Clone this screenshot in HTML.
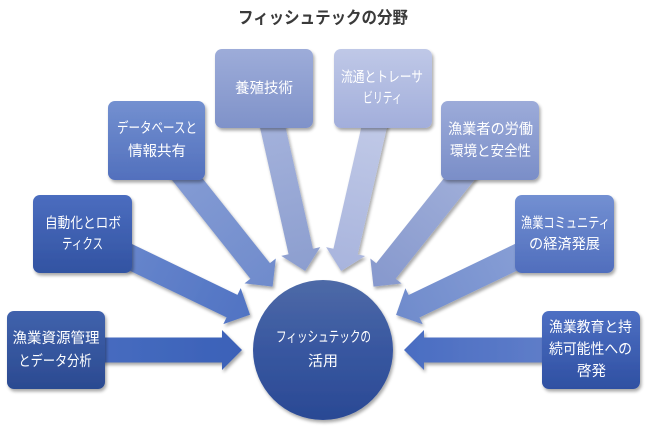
<!DOCTYPE html>
<html>
<head>
<meta charset="utf-8">
<style>
  html, body { margin: 0; padding: 0; background: #ffffff; }
  body { width: 650px; height: 427px; overflow: hidden; }
  svg { display: block; }
  .t { font-family: "Liberation Sans", "Noto Sans CJK JP", sans-serif; font-size: 14.5px; fill: #ffffff; }
  .title { font-family: "Liberation Sans", "Noto Sans CJK JP", sans-serif; font-size: 17px; font-weight: bold; fill: #3a3a3a; }
</style>
</head>
<body>
<svg width="650" height="427" viewBox="0 0 650 427" xmlns="http://www.w3.org/2000/svg">
  <defs>
    <filter id="sh" x="-20%" y="-20%" width="140%" height="140%">
      <feGaussianBlur in="SourceAlpha" stdDeviation="1.6"/>
      <feOffset dx="1.5" dy="2.5" result="ob"/>
      <feComponentTransfer><feFuncA type="linear" slope="0.35"/></feComponentTransfer>
      <feMerge><feMergeNode/><feMergeNode in="SourceGraphic"/></feMerge>
    </filter>
    <!-- box gradients -->
    <linearGradient id="b0" x1="0" y1="0" x2="0" y2="1"><stop offset="0" stop-color="#4062ac"/><stop offset="1" stop-color="#2b4a91"/></linearGradient>
    <linearGradient id="b1" x1="0" y1="0" x2="0" y2="1"><stop offset="0" stop-color="#4b6dbf"/><stop offset="1" stop-color="#3253a2"/></linearGradient>
    <linearGradient id="b2" x1="0" y1="0" x2="0" y2="1"><stop offset="0" stop-color="#7390d0"/><stop offset="1" stop-color="#5270bd"/></linearGradient>
    <linearGradient id="b3" x1="0" y1="0" x2="0" y2="1"><stop offset="0" stop-color="#9dacd9"/><stop offset="1" stop-color="#7f92c9"/></linearGradient>
    <linearGradient id="b4" x1="0" y1="0" x2="0" y2="1"><stop offset="0" stop-color="#bfc8e7"/><stop offset="1" stop-color="#a2aedb"/></linearGradient>
    <linearGradient id="b5" x1="0" y1="0" x2="0" y2="1"><stop offset="0" stop-color="#9cabd9"/><stop offset="1" stop-color="#7a8ec8"/></linearGradient>
    <linearGradient id="b6" x1="0" y1="0" x2="0" y2="1"><stop offset="0" stop-color="#7390d2"/><stop offset="1" stop-color="#506ebd"/></linearGradient>
    <linearGradient id="b7" x1="0" y1="0" x2="0" y2="1"><stop offset="0" stop-color="#4d6fc3"/><stop offset="1" stop-color="#2f50a2"/></linearGradient>
    <linearGradient id="bc" x1="0" y1="0" x2="0" y2="1"><stop offset="0" stop-color="#4e6aa7"/><stop offset="0.5" stop-color="#3857a0"/><stop offset="1" stop-color="#2a4994"/></linearGradient>
    <!-- arrow gradients (along length) -->
    <linearGradient id="a0" x1="0" y1="0" x2="1" y2="0"><stop offset="0" stop-color="#4a6fc2"/><stop offset="1" stop-color="#3b61b8"/></linearGradient>
    <linearGradient id="a1" x1="0" y1="0" x2="1" y2="0"><stop offset="0" stop-color="#6f8ccf"/><stop offset="1" stop-color="#5073c3"/></linearGradient>
    <linearGradient id="a2" x1="0" y1="0" x2="1" y2="0"><stop offset="0" stop-color="#8aa0d6"/><stop offset="1" stop-color="#6f8bcc"/></linearGradient>
    <linearGradient id="a3" x1="0" y1="0" x2="1" y2="0"><stop offset="0" stop-color="#a9b6de"/><stop offset="1" stop-color="#8c9ecf"/></linearGradient>
    <linearGradient id="a4" x1="0" y1="0" x2="1" y2="0"><stop offset="0" stop-color="#c6cee9"/><stop offset="1" stop-color="#a8b4dd"/></linearGradient>
    <linearGradient id="a5" x1="0" y1="0" x2="1" y2="0"><stop offset="0" stop-color="#a6b4dc"/><stop offset="1" stop-color="#8698cd"/></linearGradient>
    <linearGradient id="a6" x1="0" y1="0" x2="1" y2="0"><stop offset="0" stop-color="#8fa4d8"/><stop offset="1" stop-color="#6f8bcc"/></linearGradient>
    <linearGradient id="a7" x1="0" y1="0" x2="1" y2="0"><stop offset="0" stop-color="#6582cb"/><stop offset="1" stop-color="#4a6dc2"/></linearGradient>
  </defs>

  <!-- Title -->
  <text class="title" x="323" y="18" text-anchor="middle" dominant-baseline="central" textLength="170" lengthAdjust="spacingAndGlyphs">フィッシュテックの分野</text>

  <!-- Arrows (behind boxes) -->
  <g filter="url(#sh)">
    <polygon transform="translate(56,350) rotate(0)" fill="url(#a0)" points="0,-12.5 166,-12.5 166,-20 186,0 166,20 166,12.5 0,12.5"/>
    <polygon transform="translate(82.5,234) rotate(25.75)" fill="url(#a1)" points="0,-12.5 166,-12.5 166,-20 186,0 166,20 166,12.5 0,12.5"/>
    <polygon transform="translate(156.5,140.5) rotate(51.52)" fill="url(#a2)" points="0,-12.5 166.6,-12.5 166.6,-20 186.6,0 166.6,20 166.6,12.5 0,12.5"/>
    <polygon transform="translate(264,88.5) rotate(77.29)" fill="url(#a3)" points="0,-12.5 167.1,-12.5 167.1,-20 187.1,0 167.1,20 167.1,12.5 0,12.5"/>
    <polygon transform="translate(383,88.5) rotate(102.92)" fill="url(#a4)" points="0,-12.5 167.3,-12.5 167.3,-20 187.3,0 167.3,20 167.3,12.5 0,12.5"/>
    <polygon transform="translate(490,140.5) rotate(128.56)" fill="url(#a5)" points="0,-12.5 166.9,-12.5 166.9,-20 186.9,0 166.9,20 166.9,12.5 0,12.5"/>
    <polygon transform="translate(564.5,234) rotate(154.34)" fill="url(#a6)" points="0,-12.5 166.9,-12.5 166.9,-20 186.9,0 166.9,20 166.9,12.5 0,12.5"/>
    <polygon transform="translate(591,350) rotate(180)" fill="url(#a7)" points="0,-12.5 167,-12.5 167,-20 187,0 167,20 167,12.5 0,12.5"/>
  </g>

  <!-- Boxes -->
  <g filter="url(#sh)">
    <rect x="7" y="311" width="98" height="78" rx="7" fill="url(#b0)"/>
    <rect x="33" y="195" width="99" height="78" rx="7" fill="url(#b1)"/>
    <rect x="108" y="101" width="97" height="79" rx="7" fill="url(#b2)"/>
    <rect x="215" y="49" width="98" height="79" rx="7" fill="url(#b3)"/>
    <rect x="334" y="49" width="98" height="79" rx="7" fill="url(#b4)"/>
    <rect x="441" y="101" width="98" height="79" rx="7" fill="url(#b5)"/>
    <rect x="515" y="195" width="99" height="78" rx="7" fill="url(#b6)"/>
    <rect x="542" y="311" width="98" height="78" rx="7" fill="url(#b7)"/>
    <circle cx="323" cy="350" r="70" fill="url(#bc)"/>
  </g>

  <!-- Box texts -->
  <text class="t" x="56" y="339" text-anchor="middle" dominant-baseline="central" textLength="87" lengthAdjust="spacingAndGlyphs">漁業資源管理</text>
  <text class="t" x="55" y="362" text-anchor="middle" dominant-baseline="central" textLength="73" lengthAdjust="spacingAndGlyphs">とデータ分析</text>

  <text class="t" x="83" y="224" text-anchor="middle" dominant-baseline="central" textLength="76" lengthAdjust="spacingAndGlyphs">自動化とロボ</text>
  <text class="t" x="82.5" y="245" text-anchor="middle" dominant-baseline="central" textLength="41" lengthAdjust="spacingAndGlyphs">ティクス</text>

  <text class="t" x="157" y="129" text-anchor="middle" dominant-baseline="central" textLength="80" lengthAdjust="spacingAndGlyphs">データベースと</text>
  <text class="t" x="157" y="152" text-anchor="middle" dominant-baseline="central" textLength="58" lengthAdjust="spacingAndGlyphs">情報共有</text>

  <text class="t" x="264" y="89" text-anchor="middle" dominant-baseline="central" textLength="58" lengthAdjust="spacingAndGlyphs">養殖技術</text>

  <text class="t" x="382" y="78" text-anchor="middle" dominant-baseline="central" textLength="82" lengthAdjust="spacingAndGlyphs">流通とトレーサ</text>
  <text class="t" x="382.5" y="99" text-anchor="middle" dominant-baseline="central" textLength="39" lengthAdjust="spacingAndGlyphs">ビリティ</text>

  <text class="t" x="490.5" y="130" text-anchor="middle" dominant-baseline="central" textLength="85" lengthAdjust="spacingAndGlyphs">漁業者の労働</text>
  <text class="t" x="490.5" y="152" text-anchor="middle" dominant-baseline="central" textLength="81" lengthAdjust="spacingAndGlyphs">環境と安全性</text>

  <text class="t" x="565.5" y="224" text-anchor="middle" dominant-baseline="central" textLength="89" lengthAdjust="spacingAndGlyphs">漁業コミュニティ</text>
  <text class="t" x="564.5" y="245" text-anchor="middle" dominant-baseline="central" textLength="71" lengthAdjust="spacingAndGlyphs">の経済発展</text>

  <text class="t" x="590.5" y="328" text-anchor="middle" dominant-baseline="central" textLength="83" lengthAdjust="spacingAndGlyphs">漁業教育と持</text>
  <text class="t" x="590.5" y="350" text-anchor="middle" dominant-baseline="central" textLength="83" lengthAdjust="spacingAndGlyphs">続可能性への</text>
  <text class="t" x="591.5" y="372" text-anchor="middle" dominant-baseline="central" textLength="29" lengthAdjust="spacingAndGlyphs">啓発</text>

  <text class="t" x="323.5" y="338" text-anchor="middle" dominant-baseline="central" textLength="95" lengthAdjust="spacingAndGlyphs">フィッシュテックの</text>
  <text class="t" x="323" y="362" text-anchor="middle" dominant-baseline="central" textLength="30" lengthAdjust="spacingAndGlyphs">活用</text>
</svg>
</body>
</html>
